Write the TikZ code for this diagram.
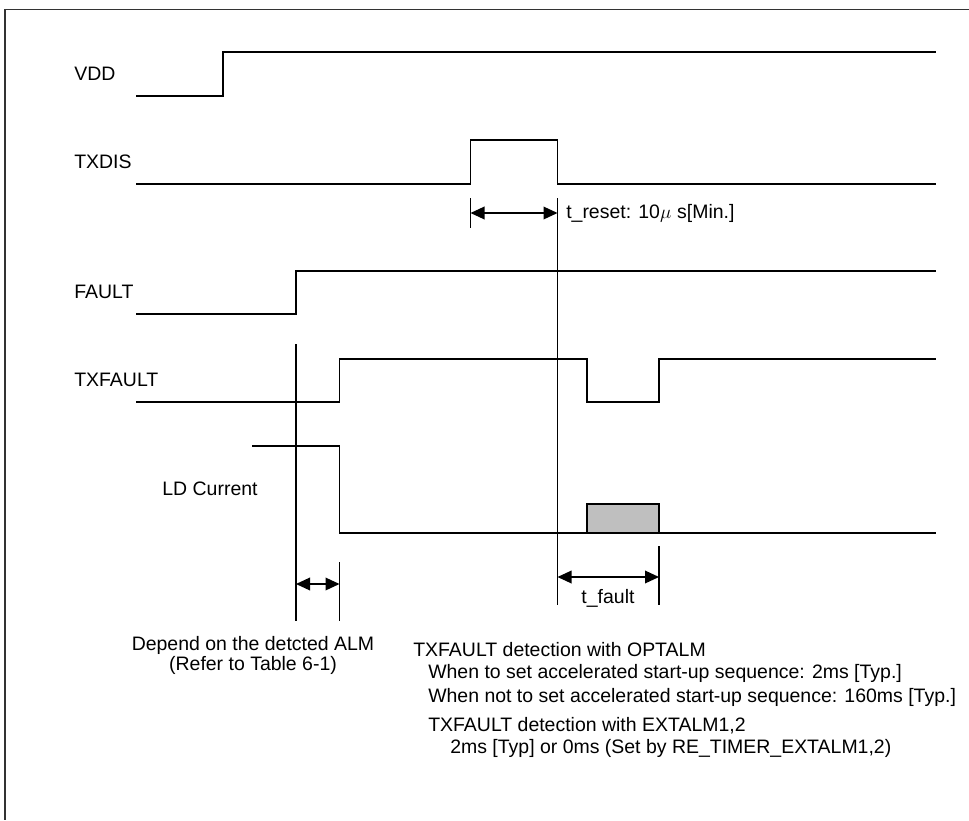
\documentclass[tikz,border=0pt]{standalone}
\usepackage{fontspec}
\setmainfont{Liberation Sans}
\usetikzlibrary{arrows.meta}

\begin{document}
\begin{tikzpicture}[
    x=0.75pt, y=-0.75pt,
    >={Triangle[length=10.5pt,width=9.5pt]},
    font=\fontsize{14.6}{15}\selectfont,
    frame/.style={
        draw=black!80,
        line width=1.4pt
    },
    wave/.style={
        line width=1pt
    },
    guide/.style={
        line width=1pt
    },
    dimline/.style={
        <->,
        line width=1pt
    },
    siglabel/.style={
        anchor=west,
        inner sep=0pt
    },
    note/.style={
        anchor=west,
        inner sep=0pt
    },
    pulse/.style={
        draw,
        fill=black!25,
        line width=1pt
    }
]

\useasboundingbox (0,0) rectangle (969,820);

\draw[frame] (969,9.5) -- (5,9.5) -- (5,820);


\node[siglabel] (lvdd) at (74,74) {VDD};
\draw[wave] (136,96) -- (223,96) -- (223,52) -- (936,52);

\node[siglabel] (ltxdis) at (74,162) {TXDIS};
\draw[wave] (136,184) -- (470.5,184) -- (470.5,140) -- (557.5,140) -- (557.5,184) -- (936,184);

\node[siglabel] (lfault) at (74,292) {FAULT};
\draw[wave] (136,314) -- (296,314) -- (296,271) -- (936,271);

\node[siglabel] (ltxfault) at (74,380) {TXFAULT};
\draw[wave] (136,402) -- (339.5,402) -- (339.5,359) -- (587,359) -- (587,402) -- (659,402) -- (659,359) -- (936,359);

\node[siglabel,anchor=center] (lld) at (210,489) {LD Current};
\draw[pulse] (587,504) rectangle (659,533);
\draw[wave] (252,446) -- (339.5,446) -- (339.5,533) -- (936,533);


\draw[guide] (470.5,198) -- (470.5,228);
\draw[guide] (557.5,198) -- (557.5,605);
\coordinate (rs0) at (470.5,213);
\coordinate (rs1) at (557.5,213);
\draw[dimline] (rs0) -- (rs1);
\node[note] (treset) at (566,213) {t\_reset: 10$\mu$\hspace{0.3em}s[Min.]};

\draw[guide] (296,344) -- (296,621);
\draw[guide] (339.5,562) -- (339.5,621);
\coordinate (dp0) at (296,584);
\coordinate (dp1) at (339.5,584);
\draw[dimline] (dp0) -- (dp1);

\draw[guide] (659,546) -- (659,605);
\coordinate (tf0) at (557.5,577);
\coordinate (tf1) at (659,577);
\draw[dimline] (tf0) -- (tf1);
\node[note,anchor=center] (tfault) at (608,598) {t\_fault};


\node[note,anchor=center,align=center] (depend) at (253,655) {Depend on the detcted ALM\\(Refer to Table 6-1)};

\node[note] (opt) at (413,650) {TXFAULT detection with OPTALM};
\node[note] (opt1) at (428,673) {When to set accelerated start-up sequence: 2ms [Typ.]};
\node[note] (opt2) at (428,697) {When not to set accelerated start-up sequence: 160ms [Typ.]};
\node[note] (ext) at (428,726) {TXFAULT detection with EXTALM1,2};
\node[note] (ext1) at (450,748) {2ms [Typ] or 0ms (Set by RE\_TIMER\_EXTALM1,2)};

\end{tikzpicture}
\end{document}
